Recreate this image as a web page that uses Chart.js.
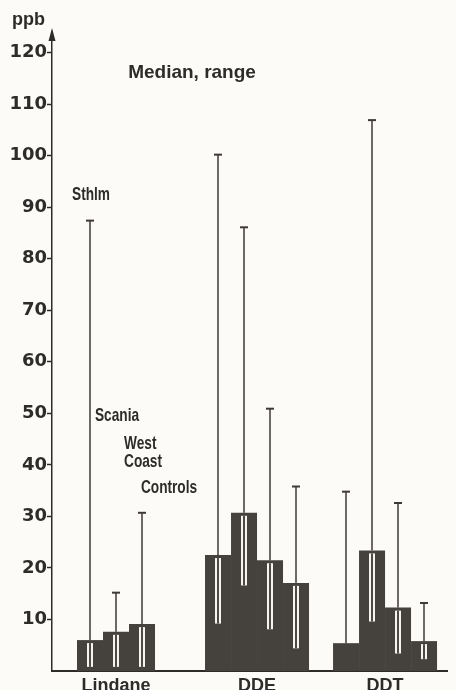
<!DOCTYPE html>
<html><head><meta charset="utf-8">
<script src="https://cdn.jsdelivr.net/npm/chart.js@4.4.1/dist/chart.umd.min.js"></script>
<style>html,body{margin:0;padding:0;background:#fcfbf8;} #wrap{width:456px;height:690px;position:relative;}</style>
</head><body><div id="wrap"><canvas id="c" width="456" height="690"></canvas></div>
<script>
// ---- data (ppb) ----
const categories = ['Lindane', 'DDE', 'DDT'];
const seriesNames = ['Sthlm', 'Scania', 'West Coast', 'Controls'];
const medianSthlm     = [6.0, 22.5, 5.4];
const medianScania    = [7.6, 30.7, 23.4];
const medianWestCoast = [9.1, 21.5, 12.3];
const medianControls  = [null, 17.1, 5.8];
const minSthlm     = [0.8, 9.2, 5.4];
const minScania    = [0.8, 16.6, 9.6];
const minWestCoast = [0.8, 8.1, 3.4];
const minControls  = [null, 4.4, 2.3];
const maxSthlm     = [87.4, 100.2, 34.8];
const maxScania    = [15.2, 86.1, 106.9];
const maxWestCoast = [30.7, 50.9, 32.6];
const maxControls  = [null, 35.8, 13.2];
const yTicks = [10, 20, 30, 40, 50, 60, 70, 80, 90, 100, 110, 120];
const seriesLabelLevels = [91.4, 48.6, 43.1, 34.6]; // ppb level of each series name annotation

const medians = [medianSthlm, medianScania, medianWestCoast, medianControls];
const mins = [minSthlm, minScania, minWestCoast, minControls];
const maxs = [maxSthlm, maxScania, maxWestCoast, maxControls];

const INK = '#2e2c2a';
const BAR = '#45413d';
const PAPER = '#fcfbf8';
const CAT_PCT = 0.8125;
const BOLD = 'bold 18px "Liberation Sans", Arial, sans-serif';
const NARROW = 'bold 19px "Liberation Sans", Arial, sans-serif';
const NARROW_SCALE = 0.72;

function slotCenter(i, s) { return (i + 1) + (s - 1.5) * CAT_PCT / 4; }
function groupCenter(i) {
  const present = medians.map((m, s) => s).filter(s => medians[s][i] != null);
  return present.reduce((a, s) => a + slotCenter(i, s), 0) / present.length;
}

const rangePlugin = {
  id: 'ranges',
  afterDatasetsDraw(chart) {
    const ctx = chart.ctx, y = chart.scales.y;
    ctx.save();
    chart.data.datasets.forEach((ds, s) => {
      const meta = chart.getDatasetMeta(s);
      meta.data.forEach((bar, i) => {
        const med = medians[s][i];
        if (med == null) return;
        const x = Math.round(bar.x);
        const yMed = y.getPixelForValue(med);
        const yMin = y.getPixelForValue(mins[s][i]);
        const yMax = y.getPixelForValue(maxs[s][i]);
        if (yMin > yMed + 3) {
          ctx.fillStyle = '#f6f4f0';
          ctx.fillRect(x - 3, yMed + 3, 6, yMin - yMed - 3);
          ctx.fillStyle = '#4f4a46';
          ctx.fillRect(x - 1, yMed + 3, 2, yMin - yMed - 3);
        }
        ctx.fillStyle = '#3e3a37';
        ctx.fillRect(x - 0.75, yMax, 1.5, yMed - yMax);
        ctx.fillRect(x - 4, yMax - 1, 8, 2);
      });
    });
    ctx.restore();
  },
  afterDraw(chart) {
    const ctx = chart.ctx, a = chart.chartArea, x = chart.scales.x, y = chart.scales.y;
    ctx.save();
    // axis arrow
    ctx.fillStyle = INK;
    ctx.fillRect(a.left - 0.75, 36, 1.5, a.top - 36 + 1);
    ctx.beginPath();
    ctx.moveTo(a.left, 28); ctx.lineTo(a.left + 3.5, 41); ctx.lineTo(a.left - 3.5, 41); ctx.closePath(); ctx.fill();
    // texts
    ctx.fillStyle = INK;
    ctx.font = BOLD; ctx.textBaseline = 'alphabetic';
    ctx.textAlign = 'left'; ctx.fillText('ppb', 12, 25);
    ctx.font = 'bold 19px "Liberation Sans", Arial, sans-serif';
    ctx.textAlign = 'center'; ctx.fillText('Median, range', 192, 78);
    // series annotations in a condensed face
    ctx.font = NARROW; ctx.textAlign = 'left';
    seriesNames.forEach((name, s) => {
      const cx = x.getPixelForValue(slotCenter(0, s)) + 1;
      const cy = y.getPixelForValue(seriesLabelLevels[s]);
      const parts = name.split(' ');
      const w = Math.max(...parts.map(p => ctx.measureText(p).width)) * NARROW_SCALE;
      parts.forEach((p, k) => {
        ctx.save();
        ctx.translate(cx - w / 2, cy + k * 18);
        ctx.scale(NARROW_SCALE, 1);
        ctx.fillText(p, 0, 0);
        ctx.restore();
      });
    });
    ctx.restore();
  }
};

const bg = { id: 'bg', beforeDraw(c) { const g = c.ctx; g.save(); g.fillStyle = PAPER; g.fillRect(0, 0, c.width, c.height); g.restore(); } };

new Chart(document.getElementById('c'), {
  type: 'bar',
  data: {
    datasets: medians.map((m, s) => ({
      label: seriesNames[s],
      data: categories.map((c, i) => ({ x: i + 1, y: m[i] })),
      backgroundColor: BAR, borderWidth: 0,
      categoryPercentage: CAT_PCT, barPercentage: 1
    }))
  },
  options: {
    responsive: false, animation: false,
    layout: { padding: { left: 0, right: 9, top: 32, bottom: 0 } },
    plugins: { legend: { display: false }, tooltip: { enabled: false } },
    scales: {
      x: {
        type: 'linear', min: 0.3984, max: 3.484, offset: false,
        grid: { display: false, drawTicks: false },
        border: { display: true, color: INK, width: 2 },
        afterBuildTicks: s => { s.ticks = categories.map((c, i) => ({ value: groupCenter(i) })); },
        ticks: { callback: (v, i) => categories[i], font: { family: '"Liberation Sans", Arial, sans-serif', weight: 'bold', size: 18 }, color: INK, padding: 4, maxRotation: 0, autoSkip: false },
        afterFit: s => { s.height = 19; }
      },
      y: {
        min: 0, max: 124,
        afterBuildTicks: s => { s.ticks = yTicks.map(v => ({ value: v })); },
        grid: { drawOnChartArea: false, drawTicks: true, tickLength: 5, tickColor: INK, tickWidth: 1.5 },
        border: { display: true, color: INK, width: 1.5 },
        ticks: { font: { family: '"DejaVu Sans", sans-serif', weight: 'bold', size: 18 }, color: INK, padding: 0 },
        afterFit: s => { s.width = 52; }
      }
    }
  },
  plugins: [bg, rangePlugin]
});
</script></body></html>
